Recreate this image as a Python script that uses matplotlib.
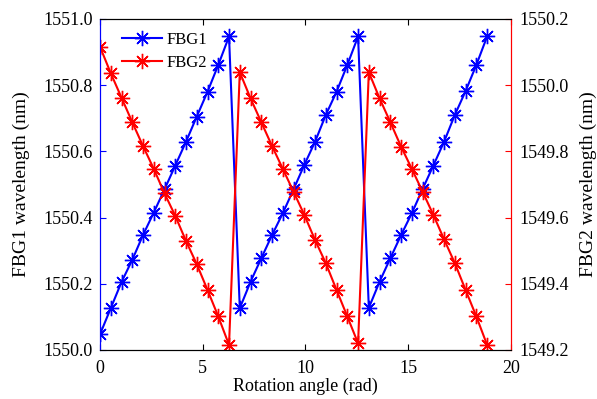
import numpy as np
import matplotlib
matplotlib.use("Agg")
import matplotlib.pyplot as plt

plt.rcParams['font.family'] = ['Liberation Serif', 'DejaVu Serif']

# rotation angle in steps of pi/6, 0 .. 6*pi
angle = np.arange(37) * np.pi / 6

fbg1 = [1550.047, 1550.126, 1550.205, 1550.272, 1550.347, 1550.415, 1550.485,
        1550.557, 1550.629, 1550.705, 1550.780, 1550.861, 1550.947,
        1550.126, 1550.206, 1550.277, 1550.347, 1550.413, 1550.485,
        1550.559, 1550.629, 1550.710, 1550.780, 1550.861, 1550.947,
        1550.127, 1550.206, 1550.277, 1550.347, 1550.413, 1550.486,
        1550.557, 1550.629, 1550.710, 1550.782, 1550.861, 1550.947]

fbg2 = [1550.116, 1550.036, 1549.962, 1549.888, 1549.816, 1549.747, 1549.673,
        1549.605, 1549.529, 1549.459, 1549.381, 1549.301, 1549.215,
        1550.039, 1549.960, 1549.888, 1549.816, 1549.747, 1549.678,
        1549.608, 1549.532, 1549.462, 1549.381, 1549.301, 1549.220,
        1550.039, 1549.960, 1549.888, 1549.814, 1549.747, 1549.678,
        1549.608, 1549.534, 1549.462, 1549.381, 1549.301, 1549.215]

fig = plt.figure(figsize=(5.97, 3.99), dpi=100)
ax = fig.add_axes([0.1675, 0.123, 0.688, 0.8296])
ax2 = ax.twinx()

star = (8, 2, 0)
l1, = ax.plot(angle, fbg1, color='#0000ff', lw=1.5, marker=star, ms=11,
              mew=1.0, label='FBG1')
l2, = ax2.plot(angle, fbg2, color='#ff0000', lw=1.5, marker=star, ms=11,
               mew=1.0, label='FBG2')

ax.set_xlim(0, 20)
ax.set_ylim(1550.0, 1551.0)
ax2.set_ylim(1549.2, 1550.2)
ax.set_xticks([0, 5, 10, 15, 20])
ax.set_yticks(np.arange(1550.0, 1551.01, 0.2))
ax2.set_yticks(np.arange(1549.2, 1550.21, 0.2))
ax.yaxis.set_major_formatter(matplotlib.ticker.FormatStrFormatter('%.1f'))
ax2.yaxis.set_major_formatter(matplotlib.ticker.FormatStrFormatter('%.1f'))

ax.tick_params(axis='x', direction='in', top=True, labelsize=13, length=4, pad=7)
ax.tick_params(axis='y', direction='in', colors='#0000ff', labelcolor='black',
               labelsize=13, length=4, pad=5)
ax2.tick_params(axis='y', direction='in', colors='#ff0000', labelcolor='black',
                labelsize=13, length=4, pad=6)

ax2.spines['left'].set_color('#0000ff')
ax2.spines['right'].set_color('#ff0000')
ax.spines['left'].set_color('#0000ff')
ax.spines['right'].set_color('#ff0000')

ax.set_xlabel('Rotation angle (rad)', fontsize=13, labelpad=1)
ax.set_ylabel('FBG1 wavelength (nm)', fontsize=14, labelpad=10)
ax2.set_ylabel('FBG2 wavelength (nm)', fontsize=14, labelpad=8)

ax.legend([l1, l2], ['FBG1', 'FBG2'], loc='upper left', frameon=False,
          fontsize=12, bbox_to_anchor=(0.021, 1.0), handlelength=2.4,
          borderpad=0.3, labelspacing=0.38, handletextpad=0.25)

fig.savefig('out.png', dpi=100)
